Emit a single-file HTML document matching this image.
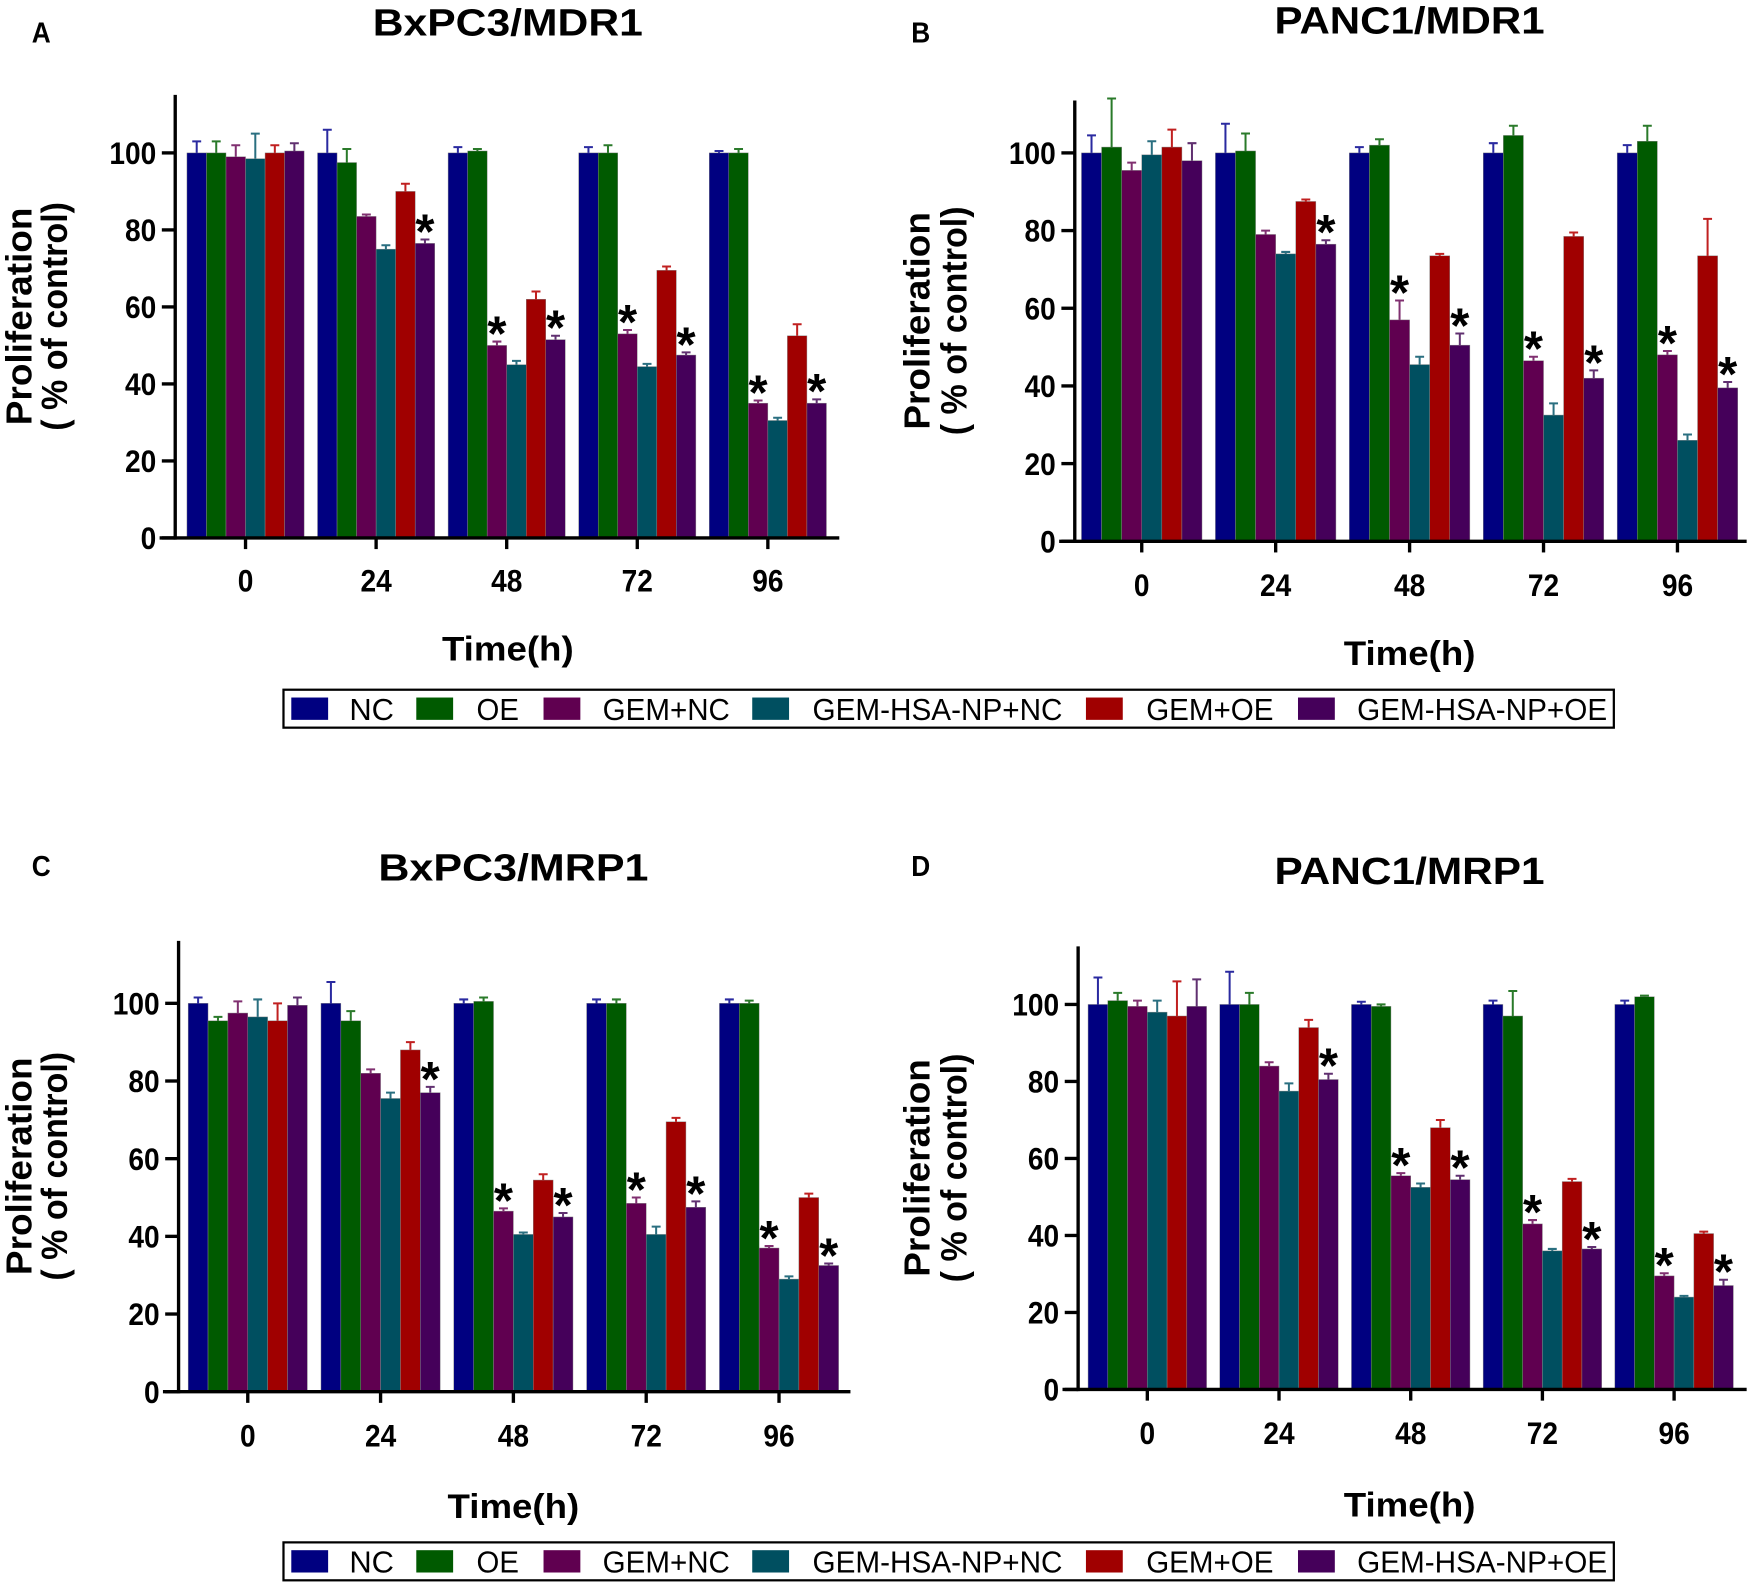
<!DOCTYPE html>
<html><head><meta charset="utf-8"><style>
html,body{margin:0;padding:0;background:#fff;}
svg{display:block;font-family:"Liberation Sans",sans-serif;}
</style></head><body>
<svg id="fig" width="1750" height="1583" viewBox="0 0 1568 1418.4" preserveAspectRatio="none" xmlns="http://www.w3.org/2000/svg"></svg>
<script>
const categories = ["0","24","48","72","96"];
const seriesNames = ["NC","OE","GEM+NC","GEM-HSA-NP+NC","GEM+OE","GEM-HSA-NP+OE"];
const yTicks = [0,20,40,60,80,100];
const valuesA = [[100,100,99,98.5,100,100.5],[100,97.5,83.5,75,90,76.5],[100,100.5,50,45,62,51.5],[100,100,53,44.5,69.5,47.5],[100,100,35,30.5,52.5,35]];
const errorsA = [[3,3,3,6.5,2,2],[6,3.5,0.5,1,2,1],[1.5,0.5,1,1,2,1],[1.5,2,1,0.7,1,0.7],[0.5,1,0.7,0.7,3,1]];
const starsA = [[],[5],[2,5],[2,5],[2,5]];
const valuesB = [[100,101.5,95.5,99.5,101.5,98],[100,100.5,79,74,87.5,76.5],[100,102,57,45.5,73.5,50.5],[100,104.5,46.5,32.5,78.5,42],[100,103,48,26,73.5,39.5]];
const errorsB = [[4.5,12.5,2,3.5,4.5,4.5],[7.5,4.5,1,0.5,0.5,1],[1.5,1.5,5,2,0.5,3],[2.5,2.5,1,3,1,2],[2,4,1,1.5,9.5,1.5]];
const starsB = [[],[5],[2,5],[2,5],[2,5]];
const valuesC = [[100,95.5,97.5,96.5,95.5,99.5],[100,95.5,82,75.5,88,77],[100,100.5,46.5,40.5,54.5,45],[100,100,48.5,40.5,69.5,47.5],[100,100,37,29,50,32.5]];
const errorsC = [[1.5,1,3,4.5,4.5,2],[5.5,2.5,1,1.5,2,1.5],[1,1,0.7,0.5,1.5,1],[1,1,1.5,2,1,1.5],[1,0.7,0.5,0.7,1,0.5]];
const starsC = [[],[5],[2,5],[2,5],[2,5]];
const valuesD = [[100,101,99.5,98,97,99.5],[100,100,84,77.5,94,80.5],[100,99.5,55.5,52.5,68,54.5],[100,97,43,36,54,36.5],[100,102,29.5,24,40.5,27]];
const errorsD = [[7,2,1.5,3,9,7],[8.5,3,1,2,2,1.5],[0.7,0.5,0.7,1,2,1],[1,6.5,1,0.5,0.7,0.5],[1,0.3,0.7,0.3,0.5,1.5]];
const starsD = [[],[5],[2,5],[2,5],[2,5]];

const fills=["#000080","#005a00","#600050","#004f60","#a00000","#45005a"];
const errCol=["#2a2aa0","#2a7a2a","#803070","#2a6f80","#c02020","#603070"];
const NS="http://www.w3.org/2000/svg";
const svg=document.getElementById('fig');
function mk(tag,attrs,parent,text){const e=document.createElementNS(NS,tag);for(const k in attrs)e.setAttribute(k,attrs[k]);if(text!==undefined)e.textContent=text;(parent||svg).appendChild(e);return e;}
function cond(attrs,len){attrs.textLength=len;attrs.lengthAdjust='spacingAndGlyphs';return attrs;}

const panels=[
 {id:'a',letter:'A',title:'BxPC3/MDR1',ax:157,y0:482,y100:137,top:85,x0:220,dx:117,bw:17.5,right:752,tx:455,ty:32,lx:37,ly:38,vals:valuesA,errs:errorsA,stars:starsA,tickY:530,timeY:592,ytx:28,ytx2:60},
 {id:'b',letter:'B',title:'PANC1/MDR1',ax:963,y0:485,y100:137,top:90,x0:1023,dx:120,bw:18,right:1565,tx:1263,ty:30,lx:825,ly:38,vals:valuesB,errs:errorsB,stars:starsB,tickY:534,timeY:596,ytx:833,ytx2:866},
 {id:'c',letter:'C',title:'BxPC3/MRP1',ax:160,y0:1247,y100:899,top:843,x0:222,dx:119,bw:17.8,right:762,tx:460,ty:789,lx:37,ly:785,vals:valuesC,errs:errorsC,stars:starsC,tickY:1296,timeY:1360,ytx:28,ytx2:60},
 {id:'d',letter:'D',title:'PANC1/MRP1',ax:966,y0:1245,y100:900,top:848,x0:1028,dx:118,bw:17.7,right:1565,tx:1263,ty:792,lx:825,ly:785,vals:valuesD,errs:errorsD,stars:starsD,tickY:1294,timeY:1359,ytx:833,ytx2:866}
];

panels.forEach(p=>{
  const g=mk('g',{});
  
  
  const Y=v=>p.y0-(p.y0-p.y100)*v/100;
  const t=mk('text',cond({x:p.tx,y:p.ty,'text-anchor':'middle','font-size':34,'font-weight':'bold'},242),g,p.title);
  
  
  const l=mk('text',cond({x:p.lx,y:p.ly,'text-anchor':'middle','font-size':26,'font-weight':'bold'},17),g,p.letter);
  
  
  p.vals.forEach((grp,gi)=>{
    const start=p.x0+gi*p.dx-3*p.bw;
    grp.forEach((v,si)=>{
      const x=start+si*p.bw, yv=Y(v), ye=Y(v+p.errs[gi][si]);
      const r=mk('rect',{x:x,y:yv,width:p.bw,height:p.y0-yv,fill:fills[si],stroke:'#888','stroke-width':0.4},g);
      
      
      const cx=x+p.bw/2;
      const e=mk('path',{d:`M${cx} ${yv}V${ye}M${cx-4} ${ye}H${cx+4}`,stroke:errCol[si],'stroke-width':1.8,fill:'none'},g);
      
      
      if(p.stars[gi].includes(si)){
        const s=mk('text',{x:cx,y:ye+8,'text-anchor':'middle','font-size':44,'font-weight':'bold'},g,'*');
        
        
      }
    });
    const lab=categories[gi];
    const tl=mk('text',cond({x:p.x0+gi*p.dx,y:p.tickY,'text-anchor':'middle','font-size':28,'font-weight':'bold'},14*lab.length),g,lab);
    
    
    mk('line',{x1:p.x0+gi*p.dx,x2:p.x0+gi*p.dx,y1:p.y0,y2:p.y0+10,stroke:'#000','stroke-width':3},g);
  });
  const ya=mk('line',{x1:p.ax,x2:p.ax,y1:p.top,y2:p.y0+1.5,stroke:'#000','stroke-width':3},g);
  
  
  const xa=mk('line',{x1:p.ax-14,x2:p.right,y1:p.y0,y2:p.y0,stroke:'#000','stroke-width':3},g);
  
  
  yTicks.forEach(v=>{
    mk('line',{x1:p.ax-12,x2:p.ax,y1:Y(v),y2:Y(v),stroke:'#000','stroke-width':3},g);
    const s=String(v);
    const yl=mk('text',cond({x:p.ax-17,y:Y(v)+10,'text-anchor':'end','font-size':28,'font-weight':'bold'},14*s.length),g,s);
    
    
  });
  const cy=(p.y0+p.top)/2;
  const yt=mk('text',cond({transform:`translate(${p.ytx},${cy}) rotate(-90)`,'text-anchor':'middle','font-size':32,'font-weight':'bold'},195),g,'Proliferation');
  
  
  const yt2=mk('text',cond({transform:`translate(${p.ytx2},${cy}) rotate(-90)`,'text-anchor':'middle','font-size':32,'font-weight':'bold'},205),g,'( % of control)');
  
  
  const xt=mk('text',cond({x:p.tx,y:p.timeY,'text-anchor':'middle','font-size':31,'font-weight':'bold'},118),g,'Time(h)');
  
  
});

const legX=[[261,313],[373,427],[487,540],[674,728],[973,1027],[1163,1216]];
const legW=[40,38,114,224,114,224];
[618,1382].forEach((ly,li)=>{
  const g=mk('g',{});
  
  
  mk('rect',{x:254,y:ly,width:1192,height:34,fill:'#fff',stroke:'#000','stroke-width':2},g);
  seriesNames.forEach((n,i)=>{
    const e=mk('g',{},g);
    
    
    mk('rect',{x:legX[i][0],y:ly+7,width:33,height:20,fill:fills[i]},e);
    mk('text',cond({x:legX[i][1],y:ly+27,'font-size':27},legW[i]),e,n);
  });
});
</script>
</body></html>
